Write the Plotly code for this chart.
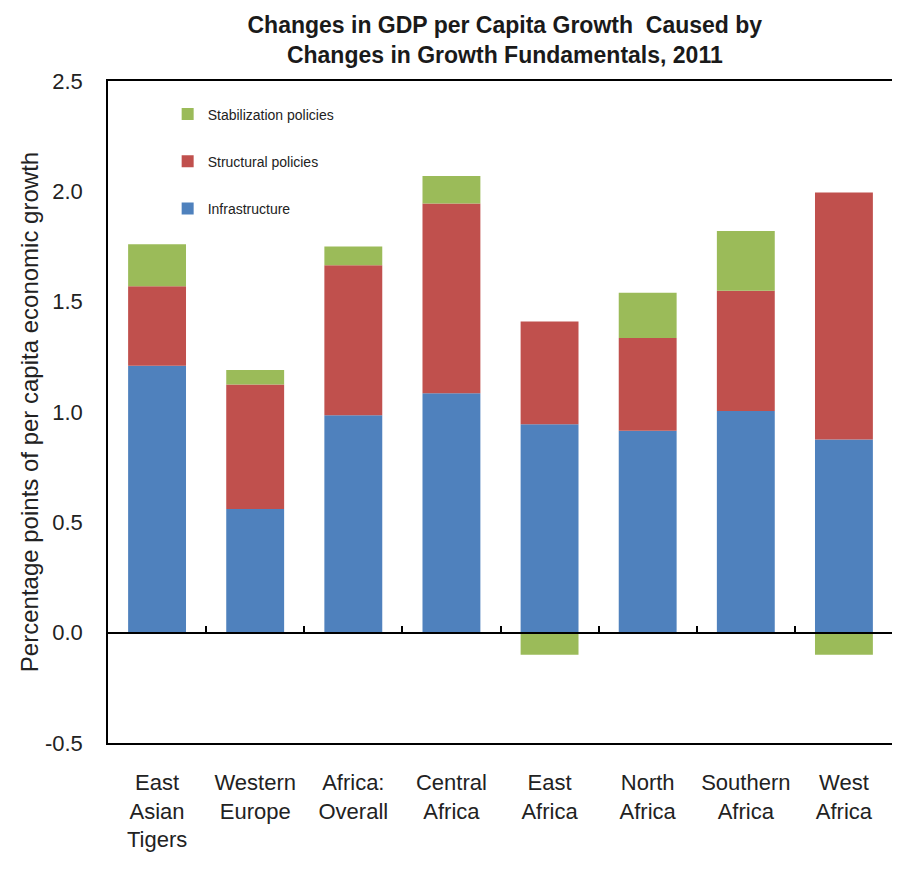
import plotly.graph_objects as go

categories = ["East<br>Asian<br>Tigers", "Western<br>Europe", "Africa:<br>Overall", "Central<br>Africa",
              "East<br>Africa", "North<br>Africa", "Southern<br>Africa", "West<br>Africa"]
infrastructure = [1.21, 0.56, 0.985, 1.085, 0.945, 0.915, 1.005, 0.875]
structural = [0.36, 0.565, 0.68, 0.86, 0.465, 0.42, 0.545, 1.12]
stabilization = [0.19, 0.065, 0.085, 0.125, -0.10, 0.205, 0.27, -0.10]
y_tickvals = [-0.5, 0.0, 0.5, 1.0, 1.5, 2.0, 2.5]
y_ticktext = ["-0.5", "0.0", "0.5", "1.0", "1.5", "2.0", "2.5"]

BLUE = "#4F81BD"
RED = "#C0504D"
GREEN = "#9BBB59"
FONT = "Liberation Sans, Arial, sans-serif"

fig = go.Figure()
for name, vals, col, rank in [("Infrastructure", infrastructure, BLUE, 3),
                              ("Structural policies", structural, RED, 2),
                              ("Stabilization policies", stabilization, GREEN, 1)]:
    fig.add_trace(go.Bar(x=categories, y=vals, name=name, marker=dict(color=col, line=dict(width=0)),
                         legendgroup=name, legendrank=rank))

# helper trace for the zero-line axis with boundary ticks
fig.add_trace(go.Scatter(x=categories, y=[None] * len(categories), xaxis="x2", mode="lines",
                         showlegend=False, hoverinfo="skip"))

fig.update_layout(
    width=900, height=870,
    margin=dict(l=100, r=15, t=73, b=135),
    paper_bgcolor="white", plot_bgcolor="white",
    barmode="relative", bargap=0.41,
    title=dict(text="Changes in GDP per Capita Growth  Caused by<br>Changes in Growth Fundamentals, 2011",
               x=0.552, xref="container", xanchor="center", y=0.971, yref="container", yanchor="middle",
               font=dict(family=FONT, size=23, color="#1a1a1a", weight="bold")),
    legend=dict(x=0.076, y=0.9736, xanchor="left", yanchor="top", traceorder="grouped",
                tracegroupgap=26, font=dict(family=FONT, size=14, color="#222"),
                bgcolor="rgba(0,0,0,0)", itemwidth=30),
    xaxis=dict(showline=True, linecolor="black", linewidth=1.5, mirror=True, ticks="",
               tickfont=dict(family=FONT, size=22, color="#222"), showgrid=False,
               ticklabelstandoff=19, automargin=False),
    xaxis2=dict(overlaying="x", matches="x", anchor="free", position=1/6, side="bottom",
                showline=True, linecolor="black", linewidth=1.5, ticks="inside", tickson="boundaries",
                ticklen=6, tickcolor="black", tickwidth=1.5, showticklabels=False, showgrid=False),
    yaxis=dict(range=[-0.5, 2.5], tickvals=y_tickvals, ticktext=y_ticktext, showline=True,
               linecolor="black", linewidth=1.5, mirror=True, ticks="", showgrid=False, zeroline=False,
               tickfont=dict(family=FONT, size=22, color="#222"), ticklabelstandoff=19,
               automargin=False,
               title=dict(text="Percentage points of per capita economic growth",
                          font=dict(family=FONT, size=24, color="#222"), standoff=0)),
    font=dict(family=FONT, color="#222"),
)

fig.write_html("out.html")
